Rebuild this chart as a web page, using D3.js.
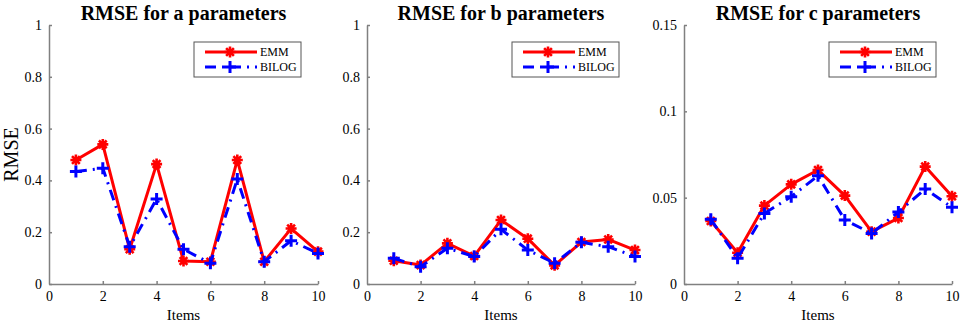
<!DOCTYPE html>
<html>
<head>
  <meta charset="utf-8">
  <title>RMSE for a, b, c parameters</title>
  <style>
    body { margin: 0; background: #fff; }
    text { font-family: "Liberation Serif", "Times New Roman", serif; fill: #000; }
  </style>
</head>
<body>
  <svg width="964" height="325"></svg>
  <script src="https://d3js.org/d3.v7.min.js"></script>
  <script>
    // data
    var items = [1, 2, 3, 4, 5, 6, 7, 8, 9, 10];
    var xTicks = [0, 2, 4, 6, 8, 10];
    var seriesNames = ["EMM", "BILOG"];

    var titleA = "RMSE for a parameters";
    var emmA = [0.479, 0.539, 0.134, 0.463, 0.089, 0.086, 0.479, 0.086, 0.214, 0.125];
    var bilogA = [0.434, 0.447, 0.144, 0.328, 0.134, 0.080, 0.405, 0.086, 0.167, 0.118];
    var yTicksA = [0, 0.2, 0.4, 0.6, 0.8, 1];

    var titleB = "RMSE for b parameters";
    var emmB = [0.090, 0.073, 0.157, 0.108, 0.247, 0.175, 0.072, 0.162, 0.172, 0.131];
    var bilogB = [0.099, 0.067, 0.138, 0.106, 0.211, 0.131, 0.080, 0.161, 0.144, 0.106];
    var yTicksB = [0, 0.2, 0.4, 0.6, 0.8, 1];

    var titleC = "RMSE for c parameters";
    var emmC = [0.0365, 0.0181, 0.0454, 0.0577, 0.0660, 0.0512, 0.0303, 0.0382, 0.0680, 0.0508];
    var bilogC = [0.0375, 0.0149, 0.0409, 0.0506, 0.0627, 0.0371, 0.0293, 0.0417, 0.0550, 0.0444];
    var yTicksC = [0, 0.05, 0.1, 0.15];

    var svg = d3.select("svg");
    var plotTop = 25, plotBottom = 284;
    var axisColor = "#808080";

    function asterisk(r) {
      var d = "";
      [0, 45, 90, 135].forEach(function (a) {
        var t = a * Math.PI / 180;
        d += "M" + (-r * Math.cos(t)) + "," + (-r * Math.sin(t)) + "L" + (r * Math.cos(t)) + "," + (r * Math.sin(t));
      });
      return d;
    }
    function plus(r) {
      return "M" + (-r) + ",0L" + r + ",0M0," + (-r) + "L0," + r;
    }

    function panel(left, right, title, emm, bilog, yTicks, yMax, showYLabel) {
      var x = d3.scaleLinear().domain([0, 10]).range([left, right]);
      var y = d3.scaleLinear().domain([0, yMax]).range([plotBottom, plotTop]);
      var g = svg.append("g");

      // axes (inward ticks, gray)
      var xAxis = g.append("g").attr("transform", "translate(0," + plotBottom + ")")
        .call(d3.axisBottom(x).tickValues(xTicks).tickSizeInner(-3).tickSizeOuter(0).tickPadding(7)
          .tickFormat(d3.format("d")));
      var yAxis = g.append("g").attr("transform", "translate(" + left + ",0)")
        .call(d3.axisLeft(y).tickValues(yTicks).tickSizeInner(-3).tickSizeOuter(0).tickPadding(7)
          .tickFormat(function (d) { return String(+d.toFixed(2)); }));
      [xAxis, yAxis].forEach(function (ax) {
        ax.select(".domain").attr("stroke", axisColor).attr("stroke-width", 1.5);
        ax.selectAll(".tick line").attr("stroke", axisColor).attr("stroke-width", 1.5);
        ax.selectAll(".tick text").attr("font-family", "Liberation Serif").attr("font-size", 14).attr("fill", "#000");
      });
      xAxis.selectAll(".tick").filter(function (d) { return d === 0; }).select("line").remove();

      g.append("text").attr("x", (left + right) / 2).attr("y", 20)
        .attr("text-anchor", "middle").attr("font-weight", "bold").attr("font-size", 20)
        .text(title);
      g.append("text").attr("x", (left + right) / 2).attr("y", 320)
        .attr("text-anchor", "middle").attr("font-size", 15).text("Items");
      if (showYLabel) {
        g.append("text").attr("transform", "translate(18," + ((plotTop + plotBottom) / 2) + ") rotate(-90)")
          .attr("text-anchor", "middle").attr("font-size", 20).text("RMSE");
      }

      var line = d3.line().x(function (d, i) { return x(items[i]); }).y(function (d) { return y(d); });

      // EMM
      g.append("path").datum(emm).attr("d", line).attr("fill", "none")
        .attr("stroke", "#ff0000").attr("stroke-width", 3).attr("stroke-linejoin", "round");
      g.selectAll(".emm").data(emm).enter().append("path").attr("class", "emm")
        .attr("transform", function (d, i) { return "translate(" + x(items[i]) + "," + y(d) + ")"; })
        .attr("d", asterisk(5.5)).attr("stroke", "#ff0000").attr("stroke-width", 2.6).attr("fill", "none");

      // BILOG
      g.append("path").datum(bilog).attr("d", line).attr("fill", "none")
        .attr("stroke", "#0000ff").attr("stroke-width", 3).attr("stroke-dasharray", "11,6,2,6");
      g.selectAll(".bilog").data(bilog).enter().append("path").attr("class", "bilog")
        .attr("transform", function (d, i) { return "translate(" + x(items[i]) + "," + y(d) + ")"; })
        .attr("d", plus(6)).attr("stroke", "#0000ff").attr("stroke-width", 3).attr("fill", "none");

      // legend
      var lx = left + 145, ly = 42;
      var leg = g.append("g");
      leg.append("rect").attr("x", lx).attr("y", ly).attr("width", 107).attr("height", 35)
        .attr("fill", "#fff").attr("stroke", "#555").attr("stroke-width", 1);
      seriesNames.forEach(function (name, k) {
        var yy = ly + 10 + k * 15;
        var isEmm = k === 0;
        var col = isEmm ? "#ff0000" : "#0000ff";
        leg.append("line").attr("x1", lx + 11).attr("x2", lx + 63).attr("y1", yy).attr("y2", yy)
          .attr("stroke", col).attr("stroke-width", 3)
          .attr("stroke-dasharray", isEmm ? null : "11,6,2,6");
        leg.append("path").attr("transform", "translate(" + (lx + 36) + "," + yy + ")")
          .attr("d", isEmm ? asterisk(5.5) : plus(6))
          .attr("stroke", col).attr("stroke-width", isEmm ? 2.6 : 3).attr("fill", "none");
        leg.append("text").attr("x", lx + 66).attr("y", yy + 4).attr("font-size", 12).text(name);
      });
    }

    panel(49, 318, titleA, emmA, bilogA, yTicksA, 1, true);
    panel(367, 635, titleB, emmB, bilogB, yTicksB, 1, false);
    panel(684, 952, titleC, emmC, bilogC, yTicksC, 0.15, false);
  </script>
</body>
</html>
